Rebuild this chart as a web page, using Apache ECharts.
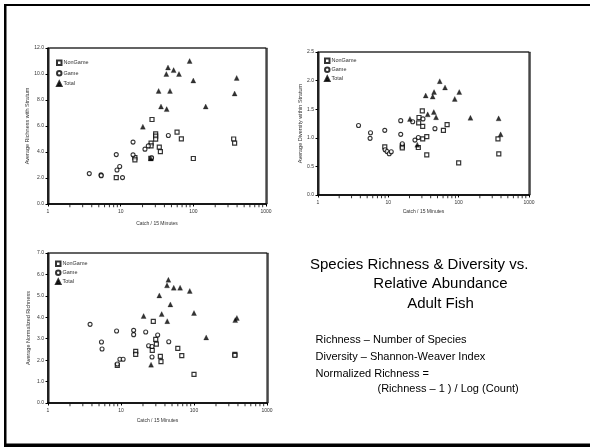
<!DOCTYPE html>
<html><head><meta charset="utf-8">
<script src="https://cdn.jsdelivr.net/npm/echarts@6/dist/echarts.min.js"></script>
<style>html,body{margin:0;padding:0;background:#fff}#c{width:590px;height:447px}</style>
</head><body><div id="c"></div>
<script>
const FONT = '"Liberation Sans", Arial, sans-serif';
const seriesNames = ['NonGame', 'Game', 'Total'];
const xTickLabels = ['1', '10', '100', '1000'];
const minorTickValues = [2,3,4,5,6,7,8,9,20,30,40,50,60,70,80,90,200,300,400,500,600,700,800,900];
const richnessTicks = ['0.0','2.0','4.0','6.0','8.0','10.0','12.0'];
const diversityTicks = ['0.0','0.5','1.0','1.5','2.0','2.5'];
const normTicks = ['0.0','1.0','2.0','3.0','4.0','5.0','6.0','7.0'];

// [catch per 15 min, value]
const richnessNonGame = [[8.7,2.03],[15.7,3.57],[15.7,3.39],[26,3.52],[26.2,4.68],[26.2,4.47],[27,6.5],[30.3,5.4],[30.3,5.22],[30.3,4.99],[34,4.37],[35.2,4.03],[59.7,5.53],[68.4,5.01],[100,3.5],[359,5.0],[370,4.68]];
const richnessGame = [[3.7,2.34],[5.37,2.24],[5.4,2.18],[8.7,3.8],[8.9,2.62],[9.7,2.88],[10.6,2.03],[14.8,4.76],[14.8,3.78],[21.6,4.22],[24,4.47],[26.6,3.55],[45.3,5.27]];
const richnessTotal = [[20.2,5.95],[26,3.5],[33.3,8.7],[35.9,7.5],[42.5,10.0],[43,7.3],[44.8,10.5],[47.7,8.7],[53.6,10.3],[63.5,10.0],[89,11.0],[100,9.5],[148,7.5],[370,8.5],[395,9.7]];

const diversityNonGame = [[8.9,0.84],[15.8,0.855],[15.8,0.825],[26.7,0.83],[27,1.26],[27.3,1.355],[30.4,1.47],[30.8,1.2],[30.8,0.98],[35.2,1.02],[35.2,0.7],[60.7,1.13],[68.5,1.23],[100,0.56],[362,0.98],[372,0.72]];
const diversityGame = [[3.77,1.215],[5.58,1.087],[5.5,0.99],[8.9,1.13],[9.0,0.79],[9.6,0.76],[10.3,0.72],[11,0.755],[15,1.3],[15,1.06],[15.8,0.895],[22.2,1.28],[23.9,0.96],[26.7,1.005],[31.1,1.33],[46,1.16]];
const diversityTotal = [[20.3,1.33],[25.8,0.88],[34,1.74],[36.3,1.41],[42.7,1.72],[44.3,1.45],[44.7,1.8],[47.7,1.36],[53.8,1.99],[64,1.88],[88,1.68],[102,1.8],[147,1.35],[370,1.34],[395,1.06]];

const normNonGame = [[8.9,1.76],[15.9,2.41],[15.9,2.27],[26.8,2.46],[27.7,3.81],[29.9,2.97],[30.5,2.75],[34.6,2.18],[35.3,1.93],[60,2.55],[68,2.21],[100,1.34],[363,2.27],[363,2.22]];
const normGame = [[3.77,3.67],[5.4,2.85],[5.5,2.52],[8.7,3.36],[8.9,1.82],[9.66,2.04],[10.7,2.04],[14.9,3.39],[14.9,3.19],[21.8,3.31],[23.9,2.675],[26.6,2.64],[26.6,2.15],[31.8,3.17],[45.1,2.86]];
const normTotal = [[20.4,4.06],[25.8,1.79],[33.5,5.02],[36.1,4.15],[42.7,5.49],[43,3.82],[44.6,5.75],[47.5,4.6],[52.8,5.38],[64.5,5.38],[87.5,5.23],[100,4.2],[147,3.06],[367,3.87],[387,3.97]];

const xTitle = 'Catch / 15 Minutes';
const yTitles = ['Average Richness with Stratum', 'Average Diversity within Stratum', 'Average Normalized Richness'];
const titleLines = ['Species Richness & Diversity vs.', 'Relative Abundance', 'Adult Fish'];
const noteLines = ['Richness \u2013 Number of Species', 'Diversity \u2013 Shannon-Weaver Index', 'Normalized Richness =', '(Richness \u2013 1 ) / Log (Count)'];

const chart = echarts.init(document.getElementById('c'), null, {renderer: 'canvas'});

const grids = [
  {left: 48, top: 48, width: 218, height: 156},
  {left: 318, top: 52, width: 211, height: 143},
  {left: 48, top: 253, width: 219, height: 150}
].map(g => Object.assign(g, {show: true, borderColor: '#000', borderWidth: 1, backgroundColor: '#fff',
  shadowColor: 'rgba(0,0,0,0.45)', shadowOffsetX: 1.5, shadowOffsetY: 0, shadowBlur: 0}));

const yCfg = [
  {max: 12, interval: 2, ticks: richnessTicks, gap: 17},
  {max: 2.5, interval: 0.5, ticks: diversityTicks, gap: 13},
  {max: 7, interval: 1, ticks: normTicks, gap: 17}
];
const xNameGap = [17, 14, 15];

const xAxes = grids.map((g, i) => ({
  type: 'log', logBase: 10, min: 1, max: 1000, gridIndex: i, splitNumber: 3,
  name: xTitle, nameLocation: 'middle', nameGap: xNameGap[i],
  nameTextStyle: {fontSize: 5, color: '#333', fontFamily: FONT},
  axisLine: {lineStyle: {color: '#000', width: 1.5}},
  axisTick: {show: true, length: 2.5, lineStyle: {color: '#000', width: 1}},
  splitLine: {show: false},
  axisLabel: {fontSize: 5, color: '#333', fontFamily: FONT, margin: 5,
    formatter: v => xTickLabels[Math.round(Math.log10(v))]}
}));

const yAxes = yCfg.map((c, i) => ({
  type: 'value', gridIndex: i, min: 0, max: c.max, interval: c.interval,
  name: yTitles[i], nameLocation: 'middle', nameGap: c.gap, nameRotate: 90,
  nameTextStyle: {fontSize: 5.5, color: '#333', fontFamily: FONT},
  axisLine: {show: true, lineStyle: {color: '#000', width: 1.5}},
  axisTick: {show: true, length: 2.5, lineStyle: {color: '#000'}},
  splitLine: {show: false},
  axisLabel: {fontSize: 5, color: '#333', fontFamily: FONT, margin: 4,
    formatter: (v, idx) => c.ticks[Math.round(v / c.interval)]}
}));

const dataSets = [
  [richnessNonGame, richnessGame, richnessTotal],
  [diversityNonGame, diversityGame, diversityTotal],
  [normNonGame, normGame, normTotal]
];
const symbolStyles = [
  {symbol: 'rect', symbolSize: 4, itemStyle: {color: '#fff', borderColor: '#000', borderWidth: 1.2}},
  {symbol: 'circle', symbolSize: 4, itemStyle: {color: '#fff', borderColor: '#000', borderWidth: 1.1}},
  {symbol: 'triangle', symbolSize: 5, itemStyle: {color: '#000', borderColor: '#000', borderWidth: 0.3}}
];
const series = [];
dataSets.forEach((set, gi) => {
  // log minor ticks placed by the axis scale itself
  series.push({
    type: 'scatter', name: 'minorTick', xAxisIndex: gi, yAxisIndex: gi,
    data: minorTickValues.map(v => [v, 0]),
    symbol: 'rect', symbolSize: [1, 2.5], symbolOffset: [0, 2],
    itemStyle: {color: '#000'}, clip: false, silent: true, animation: false, z: 5
  });
  set.forEach((d, si) => {
    series.push(Object.assign({
      type: 'scatter', name: seriesNames[si], xAxisIndex: gi, yAxisIndex: gi, data: d,
      animation: false, silent: true
    }, symbolStyles[si]));
  });
});

const legendPos = [
  {left: 56, top: 59.5, itemGap: 4},
  {left: 324, top: 57.5, itemGap: 2.5},
  {left: 55, top: 260.5, itemGap: 2.5}
];
const legends = legendPos.map(p => ({
  left: p.left, top: p.top, orient: 'vertical', padding: 0, itemGap: p.itemGap,
  itemWidth: 4.5, itemHeight: 4.5, data: seriesNames, selectedMode: false,
  textStyle: {fontSize: 5.5, color: '#333', fontFamily: FONT, padding: [0, 0, 0, -3]}
}));

const graphics = [
  {type: 'rect', z: 100, shape: {x: 4, y: 4, width: 586, height: 2}, style: {fill: '#000'}},
  {type: 'rect', z: 100, shape: {x: 4, y: 4, width: 2.5, height: 442}, style: {fill: '#000'}},
  {type: 'rect', z: 100, shape: {x: 4, y: 443.5, width: 586, height: 3.5}, style: {fill: '#000'}},
  {type: 'text', z: 100, style: {text: titleLines[0], x: 310, y: 265, textAlign: 'left', textVerticalAlign: 'middle', font: '15px ' + FONT, fill: '#000'}},
  {type: 'text', z: 100, style: {text: titleLines[1], x: 440.5, y: 283.5, textAlign: 'center', textVerticalAlign: 'middle', font: '15px ' + FONT, fill: '#000'}},
  {type: 'text', z: 100, style: {text: titleLines[2], x: 440.5, y: 303.5, textAlign: 'center', textVerticalAlign: 'middle', font: '15px ' + FONT, fill: '#000'}},
  {type: 'text', z: 100, style: {text: noteLines[0], x: 315.5, y: 339.5, textAlign: 'left', textVerticalAlign: 'middle', font: '11px ' + FONT, fill: '#000'}},
  {type: 'text', z: 100, style: {text: noteLines[1], x: 315.5, y: 356.5, textAlign: 'left', textVerticalAlign: 'middle', font: '11px ' + FONT, fill: '#000'}},
  {type: 'text', z: 100, style: {text: noteLines[2], x: 315.5, y: 373.5, textAlign: 'left', textVerticalAlign: 'middle', font: '11px ' + FONT, fill: '#000'}},
  {type: 'text', z: 100, style: {text: noteLines[3], x: 377.5, y: 389, textAlign: 'left', textVerticalAlign: 'middle', font: '11px ' + FONT, fill: '#000'}}
];

chart.setOption({
  animation: false,
  backgroundColor: '#fff',
  grid: grids, xAxis: xAxes, yAxis: yAxes, legend: legends, series: series,
  graphic: {elements: graphics}
});
</script></body></html>
